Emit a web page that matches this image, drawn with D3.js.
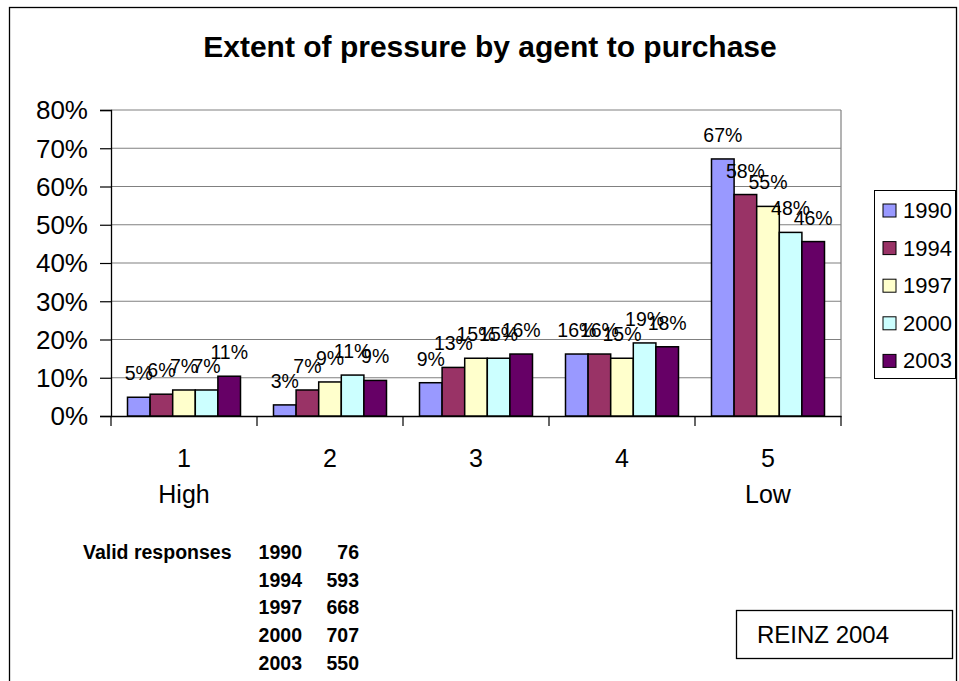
<!DOCTYPE html>
<html>
<head>
<meta charset="utf-8">
<script src="https://cdn.jsdelivr.net/npm/d3@7"></script>
<style>
  body { margin: 0; background: #fff; }
  text { font-family: "Liberation Sans", Arial, sans-serif; }
</style>
</head>
<body>
<div id="dataViz"></div>
<script>
/* chart data */
const categories = ["1", "2", "3", "4", "5"];
const catNotes   = ["High", "", "", "", "Low"];
const years      = ["1990", "1994", "1997", "2000", "2003"];
const colors     = ["#9999FF", "#993366", "#FFFFCC", "#CCFFFF", "#660066"];
/* bar heights (percent) per year, one entry per category */
const v1990 = [4.9, 2.9, 8.7, 16.2, 67.2];
const v1994 = [5.7, 6.8, 12.7, 16.2, 57.9];
const v1997 = [6.8, 8.9, 15.1, 15.1, 54.8];
const v2000 = [6.8, 10.7, 15.1, 19.1, 48.0];
const v2003 = [10.4, 9.3, 16.2, 18.1, 45.6];
/* printed labels */
const l1990 = [5, 3, 9, 16, 67];
const l1994 = [6, 7, 13, 16, 58];
const l1997 = [7, 9, 15, 15, 55];
const l2000 = [7, 11, 15, 19, 48];
const l2003 = [11, 9, 16, 18, 46];
const yTicks = [0, 10, 20, 30, 40, 50, 60, 70, 80];
const respYears  = ["1990", "1994", "1997", "2000", "2003"];
const respCounts = [76, 593, 668, 707, 550];

const values = [v1990, v1994, v1997, v2000, v2003];
const labels = [l1990, l1994, l1997, l2000, l2003];

const W = 959, H = 681;
const plot = { left: 111, right: 841, top: 110, bottom: 416 };

const svg = d3.select("#dataViz").append("svg")
    .attr("width", W).attr("height", H);

/* chart area border */
svg.append("rect")
    .attr("x", 9.5).attr("y", 7.5).attr("width", 947).attr("height", 700)
    .attr("fill", "none").attr("stroke", "#000").attr("stroke-width", 1.3);

/* title */
svg.append("text")
    .attr("x", 490).attr("y", 57)
    .attr("text-anchor", "middle")
    .style("font-size", "30px").style("font-weight", "bold")
    .text("Extent of pressure by agent to purchase");

/* scales */
const x0 = d3.scaleBand().domain(categories).range([plot.left, plot.right]).padding(0);
const x1 = d3.scaleBand().domain(years).range([0, x0.bandwidth()]).paddingInner(0).paddingOuter(0.73);
const y  = d3.scaleLinear().domain([0, 80]).range([plot.bottom, plot.top]);

/* gridlines */
svg.append("g").selectAll("line")
    .data(yTicks.filter(d => d > 0))
    .enter().append("line")
    .attr("x1", plot.left).attr("x2", plot.right)
    .attr("y1", d => y(d)).attr("y2", d => y(d))
    .attr("stroke", "#808080").attr("stroke-width", 1.2);

/* plot area right border */
svg.append("line")
    .attr("x1", plot.right).attr("x2", plot.right)
    .attr("y1", plot.top).attr("y2", plot.bottom)
    .attr("stroke", "#808080").attr("stroke-width", 1.2);

/* y axis */
const yAxis = svg.append("g")
    .attr("transform", `translate(${plot.left},0)`)
    .call(d3.axisLeft(y).tickValues(yTicks).tickSize(11).tickFormat(d => d + "%"));
yAxis.select(".domain").attr("stroke", "#000").attr("stroke-width", 1.3);
yAxis.selectAll(".tick line").attr("stroke", "#000").attr("stroke-width", 1.2);
yAxis.selectAll(".tick text")
    .attr("x", -23).attr("dy", "0.34em")
    .style("font-size", "26px").attr("fill", "#000")
    .style("font-family", "'Liberation Sans', Arial, sans-serif");

/* x axis: line plus ticks between categories */
const xAxis = svg.append("g")
    .attr("transform", `translate(0,${plot.bottom})`)
    .call(d3.axisBottom(x0).tickSize(0).tickFormat(""));
xAxis.select(".domain").attr("stroke", "#000").attr("stroke-width", 1.3);
svg.append("g").selectAll("line")
    .data(categories.concat(["end"]))
    .enter().append("line")
    .attr("x1", (d, i) => plot.left + i * x0.step())
    .attr("x2", (d, i) => plot.left + i * x0.step())
    .attr("y1", plot.bottom).attr("y2", plot.bottom + 10)
    .attr("stroke", "#000").attr("stroke-width", 1.2);

/* category labels */
svg.append("g").selectAll("text")
    .data(categories)
    .enter().append("text")
    .attr("x", d => x0(d) + x0.bandwidth() / 2)
    .attr("y", 467)
    .attr("text-anchor", "middle")
    .style("font-size", "25px")
    .text(d => d);
svg.append("g").selectAll("text")
    .data(categories)
    .enter().append("text")
    .attr("x", d => x0(d) + x0.bandwidth() / 2)
    .attr("y", 503)
    .attr("text-anchor", "middle")
    .style("font-size", "25px")
    .text((d, i) => catNotes[i]);

/* bars */
const barData = [];
years.forEach((yr, s) => {
    categories.forEach((c, i) => {
        barData.push({ cat: c, year: yr, s: s, v: values[s][i], lab: labels[s][i] });
    });
});

svg.append("g").selectAll("rect")
    .data(barData)
    .enter().append("rect")
    .attr("x", d => x0(d.cat) + x1(d.year))
    .attr("y", d => y(d.v))
    .attr("width", x1.bandwidth())
    .attr("height", d => y(0) - y(d.v))
    .attr("fill", d => colors[d.s])
    .attr("stroke", "#000").attr("stroke-width", 1.5);

/* data labels */
svg.append("g").selectAll("text")
    .data(barData)
    .enter().append("text")
    .attr("x", d => x0(d.cat) + x1(d.year) + x1.bandwidth() / 2)
    .attr("y", d => y(d.v) - 17)
    .attr("text-anchor", "middle")
    .style("font-size", "19.5px")
    .text(d => d.lab + "%");

/* legend */
const legend = svg.append("g");
legend.append("rect")
    .attr("x", 874.5).attr("y", 190.5).attr("width", 81).attr("height", 188)
    .attr("fill", "#fff").attr("stroke", "#000").attr("stroke-width", 1);
const legItem = legend.selectAll("g.item")
    .data(years)
    .enter().append("g")
    .attr("class", "item")
    .attr("transform", (d, i) => `translate(883,${210 + i * 37.6})`);
legItem.append("rect")
    .attr("x", 0).attr("y", -6).attr("width", 13).attr("height", 13)
    .attr("fill", (d, i) => colors[i])
    .attr("stroke", "#000").attr("stroke-width", 1);
legItem.append("text")
    .attr("x", 20).attr("y", 8)
    .style("font-size", "22px")
    .text(d => d);

/* valid responses table */
const resp = svg.append("g").style("font-weight", "bold").style("font-size", "19.5px");
resp.append("text").attr("x", 83).attr("y", 559).text("Valid responses");
resp.selectAll("text.yr")
    .data(respYears)
    .enter().append("text")
    .attr("class", "yr")
    .attr("x", 302).attr("y", (d, i) => 559 + i * 27.7)
    .attr("text-anchor", "end")
    .text(d => d);
resp.selectAll("text.cnt")
    .data(respCounts)
    .enter().append("text")
    .attr("class", "cnt")
    .attr("x", 359).attr("y", (d, i) => 559 + i * 27.7)
    .attr("text-anchor", "end")
    .text(d => d);

/* source box */
svg.append("rect")
    .attr("x", 736.5).attr("y", 610.5).attr("width", 216).attr("height", 48)
    .attr("fill", "#fff").attr("stroke", "#000").attr("stroke-width", 1.3);
svg.append("text")
    .attr("x", 757).attr("y", 643)
    .style("font-size", "24px")
    .text("REINZ 2004");
</script>
</body>
</html>
